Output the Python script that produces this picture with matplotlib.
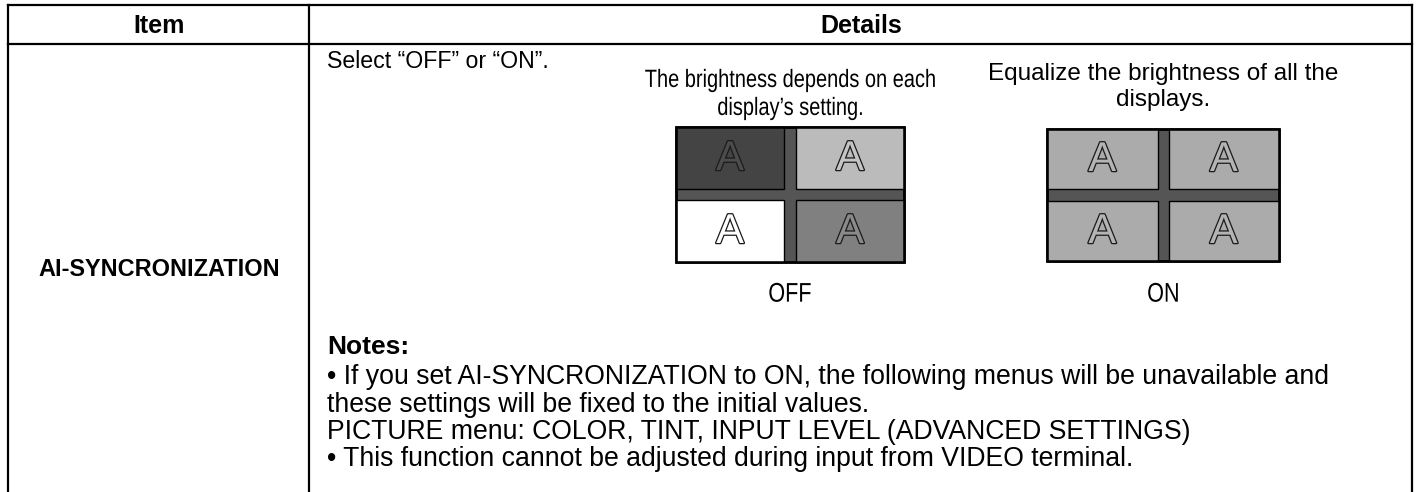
import matplotlib
matplotlib.use("Agg")
import matplotlib.pyplot as plt
import matplotlib.patheffects as pe
from matplotlib.patches import Rectangle, PathPatch
from matplotlib.textpath import TextPath
from matplotlib.font_manager import FontProperties
from matplotlib.transforms import Affine2D

plt.rcParams['font.family'] = ['Liberation Sans', 'DejaVu Sans']

# table text
headers = ["Item", "Details"]
item_name = "AI-SYNCRONIZATION"
select_text = "Select \u201cOFF\u201d or \u201cON\u201d."
caption_off = ["The brightness depends on each", "display\u2019s setting."]
caption_on = "Equalize the brightness of all the\ndisplays."
labels = ["OFF", "ON"]
notes_title = "Notes:"
notes_lines = [
    "\u2022 If you set AI-SYNCRONIZATION to ON, the following menus will be unavailable and",
    "these settings will be fixed to the initial values.",
    "PICTURE menu: COLOR, TINT, INPUT LEVEL (ADVANCED SETTINGS)",
    "\u2022 This function cannot be adjusted during input from VIDEO terminal.",
]

# tile colours, order: top-left, top-right, bottom-left, bottom-right
tiles_off = ["#444444", "#bbbbbb", "#ffffff", "#808080"]
tiles_on = ["#ababab", "#ababab", "#ababab", "#ababab"]
a_colors_off = ["#4c4c4c", "#c4c4c4", "#ffffff", "#8a8a8a"]
a_colors_on = ["#b4b4b4"] * 4
gap_color = "#555555"

fig = plt.figure(figsize=(14.17, 4.92), dpi=100)
ax = fig.add_axes([0, 0, 1, 1])
ax.set_xlim(0, 1417)
ax.set_ylim(492, 0)
ax.axis("off")

fp = FontProperties(family="Liberation Sans")


def narrow_text(x, y, s, size_px, sx=0.8, color="black"):
    # condensed text, drawn as a path squeezed horizontally; (x, y) = centre
    tp = TextPath((0, 0), s, size=size_px, prop=fp)
    bb = tp.get_extents()
    cap = 0.716 * size_px
    tr = Affine2D().scale(sx, -1).translate(x - sx * (bb.x0 + bb.width / 2), y + cap / 2)
    ax.add_patch(PathPatch(tr.transform_path(tp), facecolor=color, edgecolor="none", lw=0))


# table lines
lw = 1.6
ax.plot([8, 1412], [5, 5], color="black", lw=lw)
ax.plot([8, 1412], [44, 44], color="black", lw=lw)
for x in [8, 309, 1412]:
    ax.plot([x, x], [5, 492], color="black", lw=lw)

ax.text(159, 26, headers[0], ha="center", va="center", fontsize=18, fontweight="bold")
ax.text(861, 26, headers[1], ha="center", va="center", fontsize=18, fontweight="bold")
ax.text(159, 269, item_name, ha="center", va="center", fontsize=16.9, fontweight="bold")

ax.text(327, 62, select_text, ha="left", va="center", fontsize=16.7)

narrow_text(790, 78, caption_off[0], 25)
narrow_text(790, 106, caption_off[1], 25)
ax.text(1163, 87, caption_on, ha="center", va="center", fontsize=17.5,
        linespacing=1.25)


def draw_grid(x0, y0, w, h, vgap, hgap, colors, a_colors):
    ax.add_patch(Rectangle((x0, y0), w, h, facecolor=gap_color,
                           edgecolor="black", lw=1.8, zorder=2))
    tw = (w - vgap) / 2
    th = (h - hgap) / 2
    pos = [(x0, y0), (x0 + tw + vgap, y0), (x0, y0 + th + hgap),
           (x0 + tw + vgap, y0 + th + hgap)]
    for (tx, ty), c, ac in zip(pos, colors, a_colors):
        ax.add_patch(Rectangle((tx, ty), tw, th, facecolor=c,
                               edgecolor="black", lw=1.0, zorder=3))
        ax.text(tx + tw / 2, ty + th / 2 + 1, "A", ha="center", va="center",
                fontsize=30, color=ac, zorder=4,
                path_effects=[pe.withStroke(linewidth=1.8, foreground="#1a1a1a")])
    ax.add_patch(Rectangle((x0, y0), w, h, facecolor="none",
                           edgecolor="black", lw=1.8, zorder=5))


draw_grid(676, 127, 228, 135, 12, 11, tiles_off, a_colors_off)
draw_grid(1047, 129, 232, 132, 11, 12, tiles_on, a_colors_on)

narrow_text(790, 292, labels[0], 27)
narrow_text(1163, 292, labels[1], 27)

ax.text(327, 347, notes_title, ha="left", va="center", fontsize=19, fontweight="bold")
for i, line in enumerate(notes_lines):
    ax.text(327, 377 + i * 27.5, line, ha="left", va="center", fontsize=19.2)

fig.savefig("out.png", dpi=100)
